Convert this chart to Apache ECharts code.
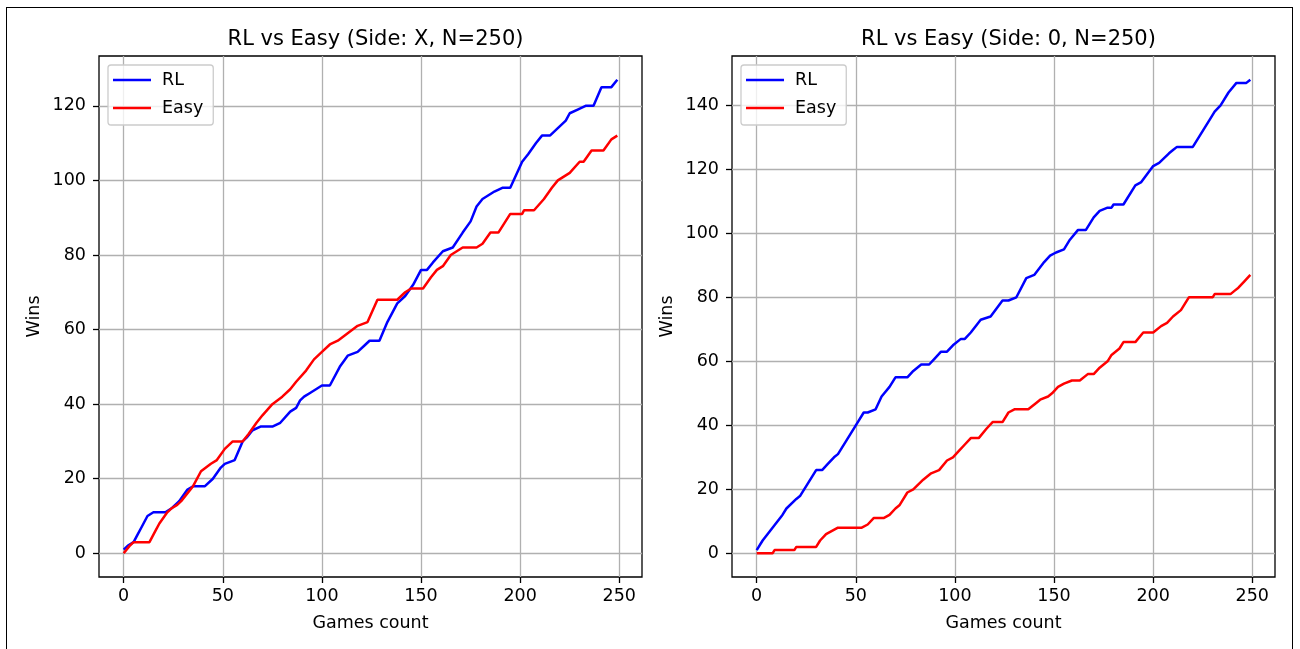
<!DOCTYPE html>
<html>
<head>
<meta charset="utf-8">
<title>RL vs Easy</title>
<script src="https://cdn.jsdelivr.net/npm/echarts@6/dist/echarts.min.js"></script>
<style>
  html, body { margin: 0; padding: 0; background: #fff; }
  #wrap { position: relative; width: 1300px; height: 649px; overflow: hidden; }
  #frame { position: absolute; left: 6px; top: 7px; width: 1287px; height: 700px;
           border: 1.5px solid #000; box-sizing: border-box; pointer-events: none; }
  #chart { position: absolute; left: 0; top: 0; width: 1300px; height: 649px; }
</style>
</head>
<body>
<div id="wrap">
  <div id="chart"></div>
  <div id="frame"></div>
</div>
<script>
// Cumulative wins per game, vertices [game, wins] of each curve.
const sideXRL = [[0,1],[2,2],[5,3],[7,5],[9,7],[12,10],[15,11],[21,11],[24,12],[28,14],[32,17],[35,18],[41,18],[45,20],[49,23],[51,24],[56,25],[60,30],[62,31],[65,33],[69,34],[75,34],[79,35],[84,38],[87,39],[89,41],[91,42],[94,43],[97,44],[100,45],[104,45],[109,50],[113,53],[118,54],[122,56],[124,57],[129,57],[133,62],[138,67],[142,69],[146,72],[150,76],[153,76],[156,78],[161,81],[166,82],[171,86],[175,89],[178,93],[181,95],[187,97],[191,98],[195,98],[201,105],[204,107],[208,110],[211,112],[215,112],[219,114],[223,116],[225,118],[229,119],[233,120],[237,120],[241,125],[246,125],[249,127]];
const sideXEasy = [[0,0],[3,2],[5,3],[13,3],[16,6],[18,8],[22,11],[24,12],[27,13],[29,14],[32,16],[35,18],[39,22],[44,24],[47,25],[51,28],[55,30],[60,30],[63,32],[67,35],[70,37],[75,40],[80,42],[84,44],[87,46],[92,49],[96,52],[100,54],[104,56],[108,57],[113,59],[118,61],[123,62],[128,68],[138,68],[142,70],[145,71],[151,71],[155,74],[158,76],[161,77],[165,80],[168,81],[171,82],[178,82],[181,83],[185,86],[189,86],[195,91],[201,91],[202,92],[207,92],[212,95],[216,98],[219,100],[222,101],[225,102],[230,105],[232,105],[236,108],[242,108],[246,111],[249,112]];
const side0RL = [[0,1],[3,4],[8,8],[13,12],[15,14],[20,17],[22,18],[26,22],[30,26],[33,26],[36,28],[39,30],[41,31],[45,35],[50,40],[54,44],[56,44],[60,45],[63,49],[67,52],[70,55],[76,55],[79,57],[83,59],[87,59],[90,61],[93,63],[96,63],[99,65],[103,67],[105,67],[108,69],[113,73],[118,74],[124,79],[127,79],[131,80],[136,86],[140,87],[145,91],[148,93],[151,94],[155,95],[158,98],[162,101],[166,101],[170,105],[173,107],[177,108],[179,108],[180,109],[185,109],[191,115],[194,116],[200,121],[203,122],[208,125],[210,126],[212,127],[220,127],[229,136],[231,138],[234,140],[238,144],[242,147],[247,147],[249,148]];
const side0Easy = [[0,0],[8,0],[9,1],[19,1],[20,2],[30,2],[32,4],[35,6],[38,7],[41,8],[53,8],[56,9],[59,11],[64,11],[67,12],[70,14],[72,15],[76,19],[79,20],[84,23],[88,25],[92,26],[96,29],[99,30],[102,32],[105,34],[108,36],[112,36],[116,39],[119,41],[124,41],[127,44],[130,45],[137,45],[141,47],[143,48],[147,49],[149,50],[152,52],[155,53],[159,54],[163,54],[167,56],[170,56],[173,58],[177,60],[179,62],[183,64],[185,66],[191,66],[195,69],[200,69],[204,71],[207,72],[210,74],[214,76],[218,80],[230,80],[231,81],[239,81],[241,82],[243,83],[246,85],[249,87]];

const titles = ['RL vs Easy (Side: X, N=250)', 'RL vs Easy (Side: 0, N=250)'];
const seriesNames = ['RL', 'Easy'];
const xTicks = [0, 50, 100, 150, 200, 250];
const yTicksX = [0, 20, 40, 60, 80, 100, 120];
const yTicks0 = [0, 20, 40, 60, 80, 100, 120, 140];

const FONT = 'DejaVu Sans';
const LABEL_SIZE = 17.5;
const TITLE_SIZE = 21;
const grids = [
  { left: 99, top: 56, width: 543, height: 521 },
  { left: 732, top: 56, width: 543, height: 521 }
];

const tickStyle = { color: '#000', width: 1.3 };
const gridLineStyle = { color: '#b0b0b0', width: 1.3 };

function xAxisFor(i) {
  return {
    type: 'value', gridIndex: i, min: -12.45, max: 261.45,
    name: 'Games count', nameLocation: 'middle', nameGap: 37,
    nameTextStyle: { fontFamily: FONT, fontSize: LABEL_SIZE, color: '#000' },
    axisLine: { show: false, onZero: false },
    axisTick: { show: true, inside: false, length: 6, customValues: xTicks, lineStyle: tickStyle },
    axisLabel: { customValues: xTicks, margin: 10, fontFamily: FONT, fontSize: LABEL_SIZE, color: '#000' },
    splitLine: { show: true, lineStyle: gridLineStyle }
  };
}
function yAxisFor(i, ticks, min, max) {
  return {
    type: 'value', gridIndex: i, min: min, max: max,
    name: 'Wins', nameLocation: 'middle', nameGap: 56, nameRotate: 90,
    nameTextStyle: { fontFamily: FONT, fontSize: LABEL_SIZE, color: '#000' },
    axisLine: { show: false, onZero: false },
    axisTick: { show: true, inside: false, length: 6, customValues: ticks, lineStyle: tickStyle },
    axisLabel: { customValues: ticks, margin: 13, fontFamily: FONT, fontSize: LABEL_SIZE, color: '#000' },
    splitLine: { show: true, lineStyle: gridLineStyle }
  };
}
function lineSeries(name, data, color, i) {
  return {
    name: name, type: 'line', data: data, xAxisIndex: i, yAxisIndex: i,
    showSymbol: false, symbol: 'none', silent: true, animation: false,
    lineStyle: { color: color, width: 2.5 }, itemStyle: { color: color }
  };
}
function legendFor(i) {
  return {
    data: seriesNames, orient: 'vertical',
    left: grids[i].left + 9, top: grids[i].top + 9,
    icon: 'rect', itemWidth: 38, itemHeight: 2.5, itemGap: 10,
    padding: [6, 10, 8, 5],
    backgroundColor: 'rgba(255,255,255,0.8)', borderColor: '#cccccc', borderWidth: 1.3, borderRadius: 3,
    textStyle: { fontFamily: FONT, fontSize: LABEL_SIZE, color: '#000', padding: [0, 0, 0, 6] },
    selectedMode: false
  };
}

const chart = echarts.init(document.getElementById('chart'), null, { renderer: 'canvas' });
chart.setOption({
  backgroundColor: '#fff',
  animation: false,
  title: titles.map((t, i) => ({
    text: t, left: grids[i].left + grids[i].width / 2, top: 24, textAlign: 'center',
    textStyle: { fontFamily: FONT, fontSize: TITLE_SIZE, fontWeight: 'normal', color: '#000' }
  })),
  legend: [legendFor(0), legendFor(1)],
  grid: grids.map(g => Object.assign({ show: true, borderColor: '#000', borderWidth: 1.3, backgroundColor: 'transparent' }, g)),
  xAxis: [xAxisFor(0), xAxisFor(1)],
  yAxis: [yAxisFor(0, yTicksX, -6.35, 133.35), yAxisFor(1, yTicks0, -7.4, 155.4)],
  series: [
    lineSeries('RL', sideXRL, '#0000ff', 0),
    lineSeries('Easy', sideXEasy, '#ff0000', 0),
    lineSeries('RL', side0RL, '#0000ff', 1),
    lineSeries('Easy', side0Easy, '#ff0000', 1)
  ]
});
</script>
</body>
</html>
